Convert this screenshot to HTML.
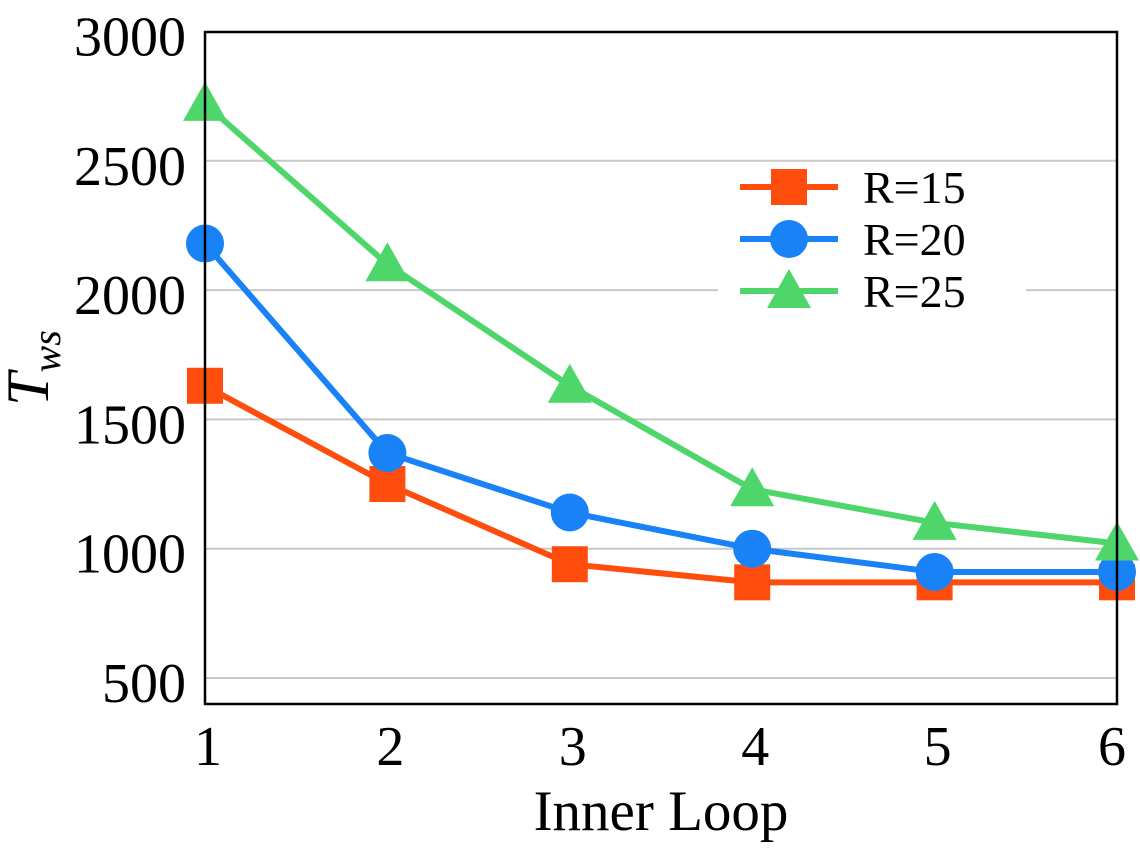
<!DOCTYPE html>
<html><head><meta charset="utf-8"><style>
html,body{margin:0;padding:0;background:#fff;width:1140px;height:850px;overflow:hidden}
svg text{font-family:"Liberation Serif","Times New Roman",serif;fill:#000}
</style></head><body>
<svg id="chart" width="1140" height="850" viewBox="0 0 1140 850" xmlns="http://www.w3.org/2000/svg">
<g id="grid"></g>
<g id="series"></g>
<rect x="718" y="165" width="308" height="150" fill="#fff"/>
<g id="legend"></g>
<rect x="205" y="32" width="912" height="672" fill="none" stroke="#000" stroke-width="2.5"/>
<g id="yticks"></g>
<g id="xticks"></g>
<text x="661" y="830" font-size="57" text-anchor="middle">Inner Loop</text>
<text transform="translate(48,368) rotate(-90)" font-size="60" text-anchor="middle" font-style="italic">T<tspan font-size="40" dy="12">ws</tspan></text>
</svg>
<script>
const categories=[1,2,3,4,5,6];
const r15=[1630,1250,940,870,870,870];
const r20=[2180,1370,1140,1000,910,910];
const r25=[2720,2100,1630,1230,1100,1020];
const yTicks=[500,1000,1500,2000,2500,3000];
const seriesNames=["R=15","R=20","R=25"];
const NS="http://www.w3.org/2000/svg";
const x=v=>205+(v-1)*182.4;
const y=v=>678-(v-500)*(129.3/500);
function mk(t,a,p){const e=document.createElementNS(NS,t);for(const k in a)e.setAttribute(k,a[k]);p.appendChild(e);return e;}
const grid=document.getElementById('grid'),yt=document.getElementById('yticks'),xt=document.getElementById('xticks');
yTicks.forEach(v=>{
 if(v<3000){const l=mk('line',{x1:205,x2:1117,y1:y(v),y2:y(v),stroke:'#c8c8c8','stroke-width':2},grid);
 
 }
 const t=mk('text',{x:186,y:y(v)+24,'font-size':56,'text-anchor':'end'},yt);t.textContent=v;
 
 
});
categories.forEach(c=>{
 const t=mk('text',{x:Math.min(x(c)+3,1112),y:765,'font-size':56,'text-anchor':'middle'},xt);t.textContent=c;
 
 
});
const colors=['#ff4d0d','#1a82f7','#4fd66a'];
const shapes=['square','circle','triangle'];
function marker(s,cx,cy,col,p){
 let e;
 if(s==='square')e=mk('rect',{x:cx-18,y:cy-18,width:36,height:36,fill:col},p);
 else if(s==='circle')e=mk('circle',{cx:cx,cy:cy,r:19,fill:col},p);
 else e=mk('polygon',{points:`${cx},${cy-22} ${cx+22},${cy+17} ${cx-22},${cy+17}`,fill:col},p);
 return e;
}
const sg=document.getElementById('series');
[r15,r20,r25].forEach((d,i)=>{
 const g=mk('g',{},sg);
 
 
 const pl=mk('polyline',{points:d.map((v,j)=>x(categories[j])+','+y(v)).join(' '),fill:'none',stroke:colors[i],'stroke-width':6},g);
 
 
 d.forEach((v,j)=>{const m=marker(shapes[i],x(categories[j]),y(v),colors[i],g);
 
 });
});
const lg=document.getElementById('legend');
seriesNames.forEach((n,i)=>{
 const cy=187+i*52;
 const g=mk('g',{},lg);
 
 
 mk('line',{x1:740,x2:838,y1:cy,y2:cy,stroke:colors[i],'stroke-width':6},g);
 marker(shapes[i],789,cy,colors[i],g);
 const t=mk('text',{x:863,y:cy+16,'font-size':46},g);t.textContent=n;
});
</script>
</body></html>
